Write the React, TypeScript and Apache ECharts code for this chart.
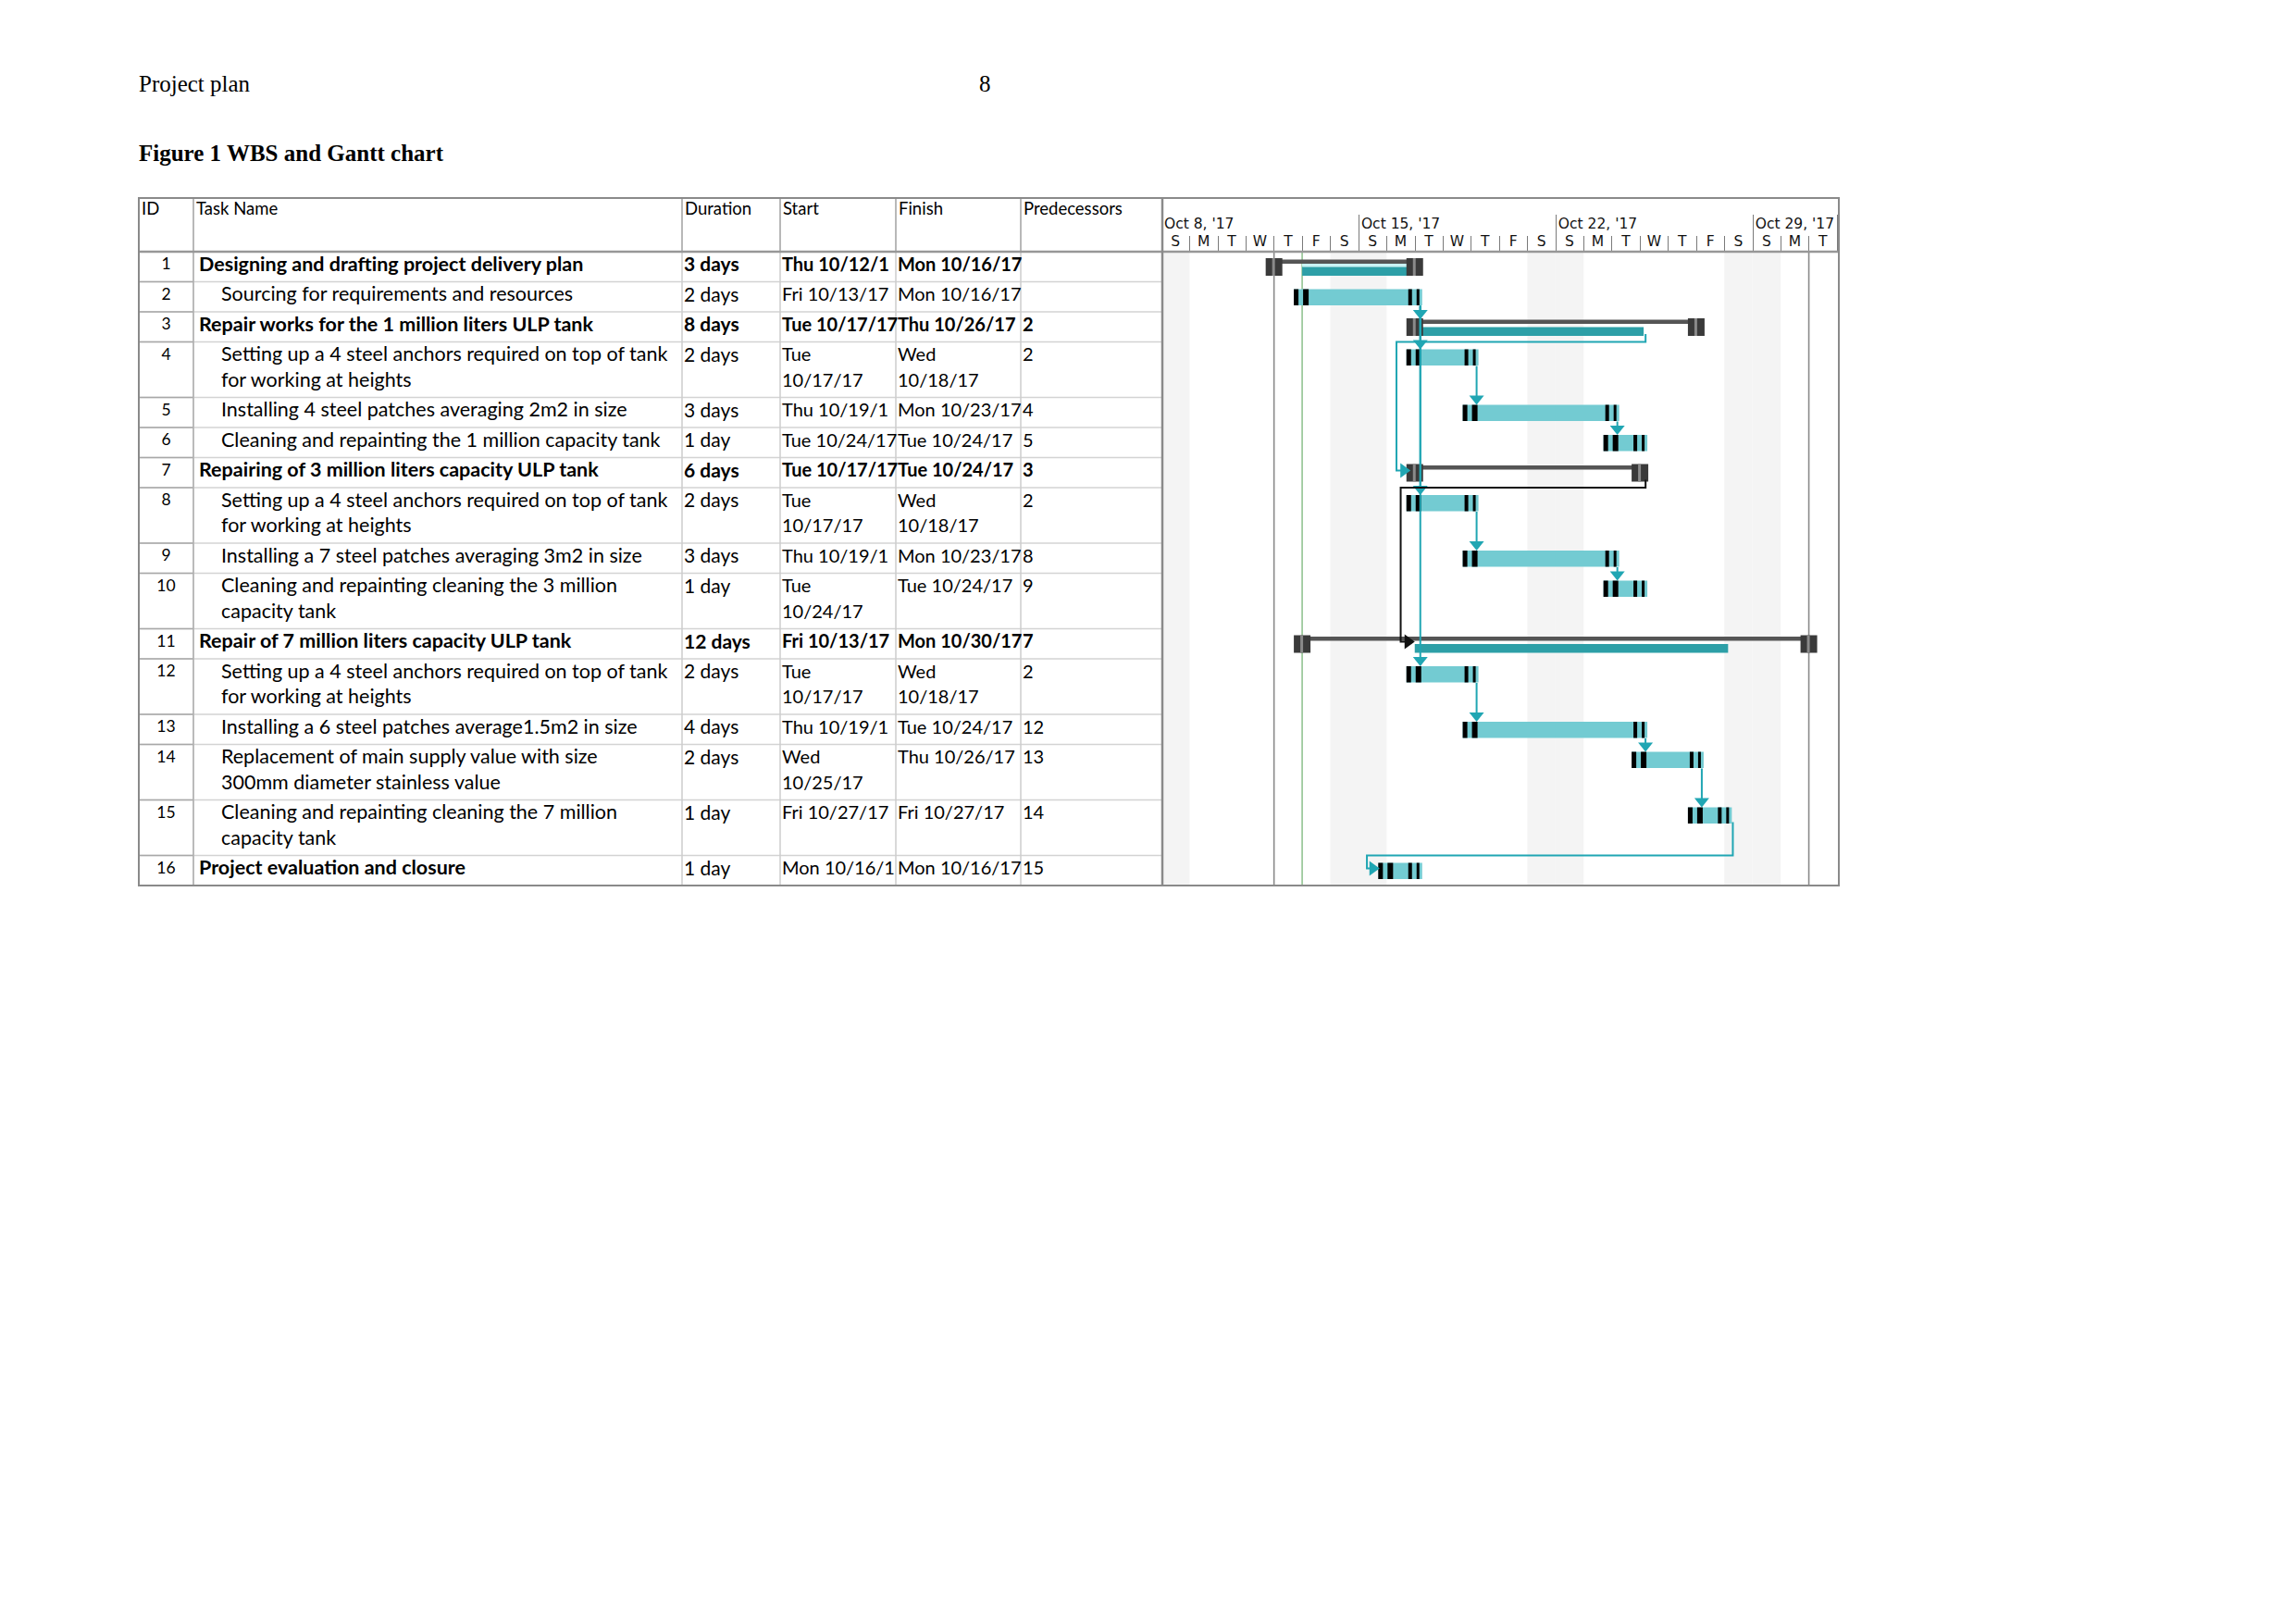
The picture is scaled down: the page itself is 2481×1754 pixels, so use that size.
import React, { useEffect, useRef } from "react";
import * as echarts from "echarts";

// ---------- Data ----------
const taskIds = [1, 2, 3, 4, 5, 6, 7, 8, 9, 10, 11, 12, 13, 14, 15, 16];
const taskNames = [
  "Designing and drafting project delivery plan",
  "Sourcing for requirements and resources",
  "Repair works for the 1 million liters ULP tank",
  "Setting up a 4 steel anchors required on top of tank\nfor working at heights",
  "Installing 4 steel patches averaging 2m2 in size",
  "Cleaning and repainting the 1 million capacity tank",
  "Repairing of 3 million liters capacity ULP tank",
  "Setting up a 4 steel anchors required on top of tank\nfor working at heights",
  "Installing a 7 steel patches averaging 3m2 in size",
  "Cleaning and repainting cleaning the 3 million\ncapacity tank",
  "Repair of 7 million liters capacity ULP tank",
  "Setting up a 4 steel anchors required on top of tank\nfor working at heights",
  "Installing a 6 steel patches average1.5m2 in size",
  "Replacement of main supply value with size\n300mm diameter stainless value",
  "Cleaning and repainting cleaning the 7 million\ncapacity tank",
  "Project evaluation and closure",
];
const outlineLevels = [1, 2, 1, 2, 2, 2, 1, 2, 2, 2, 1, 2, 2, 2, 2, 1];
const summaryRows = [true, false, true, false, false, false, true, false, false, false, true, false, false, false, false, false];
const durations = ["3 days", "2 days", "8 days", "2 days", "3 days", "1 day", "6 days", "2 days", "3 days", "1 day", "12 days", "2 days", "4 days", "2 days", "1 day", "1 day"];
const startDates = [
  "Thu 10/12/17", "Fri 10/13/17", "Tue 10/17/17", "Tue\n10/17/17", "Thu 10/19/17", "Tue 10/24/17",
  "Tue 10/17/17", "Tue\n10/17/17", "Thu 10/19/17", "Tue\n10/24/17", "Fri 10/13/17", "Tue\n10/17/17",
  "Thu 10/19/17", "Wed\n10/25/17", "Fri 10/27/17", "Mon 10/16/17",
];
const finishDates = [
  "Mon 10/16/17", "Mon 10/16/17", "Thu 10/26/17", "Wed\n10/18/17", "Mon 10/23/17", "Tue 10/24/17",
  "Tue 10/24/17", "Wed\n10/18/17", "Mon 10/23/17", "Tue 10/24/17", "Mon 10/30/17", "Wed\n10/18/17",
  "Tue 10/24/17", "Thu 10/26/17", "Fri 10/27/17", "Mon 10/16/17",
];
const predecessors = ["", "", "2", "2", "4", "5", "3", "2", "8", "9", "7", "2", "12", "13", "14", "15"];
const lineCounts = [1, 1, 1, 2, 1, 1, 1, 2, 1, 2, 1, 2, 1, 2, 2, 1];
const columnHeaders = ["ID", "Task Name", "Duration", "Start", "Finish", "Predecessors"];

// Gantt values: days counted from Sun Oct 8, 2017
const barStartDay = [4, 5, 9, 9, 11, 16, 9, 9, 11, 16, 5, 9, 11, 17, 19, 8];
const barEndDay = [9, 9, 19, 11, 16, 17, 17, 11, 16, 17, 23, 11, 17, 19, 20, 9];
const rollupStartDay: (number | null)[] = [5, null, 9, null, null, null, null, null, null, null, 9, null, null, null, null, null];
const rollupEndDay: (number | null)[] = [9, null, 17, null, null, null, null, null, null, null, 20, null, null, null, null, null];

const linkFrom = [2, 2, 2, 2, 4, 5, 8, 9, 12, 13, 14];
const linkTo = [3, 4, 8, 12, 5, 6, 9, 10, 13, 14, 15];

const loopFrom = [3, 7, 15];
const loopTo = [7, 11, 16];
const loopExitDay = [17.2, 17.2, 20.3];
const loopTurnDay = [8.35, 8.5, 7.3];
const loopEntryDay = [8.85, 9.0, 7.75];

const dayLetters = ["S", "M", "T", "W", "T", "F", "S", "S", "M", "T", "W", "T", "F", "S", "S", "M", "T", "W", "T", "F", "S", "S", "M", "T"];
const weekLabels = ["Oct 8, '17", "Oct 15, '17", "Oct 22, '17", "Oct 29, '17"];
const weekendDays = [0, 6, 7, 13, 14, 20, 21];
const markerDays = [4, 5, 23];
const TOTAL_DAYS = 24;

// ---------- Styles / layout ----------
const LIGHT_TEAL = "#73cbd2";
const DARK_TEAL = "#2d9fa7";
const PALE_CYAN = "#c9f3f5";
const LINK_TEAL = "#20a6b3";
const SUMMARY_GRAY = "#555555";
const CAP_DARK = "#3a3a3a";
const CAP_STRIPE = "#8a8a8a";
const MARKER_COLORS = ["#8a8a8a", "#93c493", "#8a8a8a"];
const LOOP_COLORS = [LINK_TEAL, "#111111", LINK_TEAL];
const TABLE_FONT = "Lato";
const AXIS_FONT = "DejaVu Sans";
const NAME_SIZE = 21.5;
const DATE_SIZE = 20;
const DUR_SIZE = 21;

const COLS = [150, 209, 737, 843, 968, 1103, 1256];
const TABLE_RIGHT = 1987;
const TABLE_TOP = 214;
const HEADER_BOTTOM = 272;
const SINGLE_ROW = 32.5;
const LINE_STEP = 27.5;
const GANTT_LEFT = 1255;
const GANTT_WIDTH = 730;

const rowHeights = lineCounts.map((n) => SINGLE_ROW + (n - 1) * LINE_STEP);
const rowTops: number[] = [];
let accH = 0;
rowHeights.forEach((h) => {
  rowTops.push(accH);
  accH += h;
});
const TOTAL_H = accH;
const rowBottom = (i: number) => rowTops[i] + rowHeights[i];

function buildGraphic() {
  const els: any[] = [];
  const TABLE_BOTTOM = HEADER_BOTTOM + TOTAL_H;
  const txt = (x: number, y: number, text: string, opts: any = {}) => ({
    type: "text",
    x,
    y,
    silent: true,
    z: 50,
    style: {
      text,
      fill: "#000",
      fontFamily: TABLE_FONT,
      fontSize: NAME_SIZE,
      align: "left",
      verticalAlign: "top",
      lineHeight: LINE_STEP,
      ...opts,
    },
  });
  const line = (x1: number, y1: number, x2: number, y2: number, stroke: string, lineWidth: number, z = 60) => ({
    type: "line",
    silent: true,
    z,
    shape: { x1, y1, x2, y2 },
    style: { stroke, lineWidth },
  });

  // page texts
  els.push(txt(150, 90, "Project plan", { fontFamily: "Liberation Serif", fontSize: 25, verticalAlign: "middle", lineHeight: 30 }));
  els.push(txt(1058, 90, "8", { fontFamily: "Liberation Serif", fontSize: 25, verticalAlign: "middle", lineHeight: 30 }));
  els.push(
    txt(150, 165, "Figure 1 WBS and Gantt chart", {
      fontFamily: "Liberation Serif",
      fontSize: 25,
      fontWeight: "bold",
      verticalAlign: "middle",
      lineHeight: 30,
    })
  );

  // header labels
  columnHeaders.forEach((h, c) => {
    els.push(txt(COLS[c] + 3, 225, h, { fontSize: 18.5, verticalAlign: "middle", lineHeight: 20 }));
  });

  // row separators
  rowTops.forEach((t, i) => {
    const y = HEADER_BOTTOM + t + rowHeights[i];
    if (i < rowTops.length - 1) {
      els.push(line(COLS[0], y, COLS[6], y, "#d3d3d3", 1.5, 40));
      els.push(line(COLS[0], y, COLS[1], y, "#a8a8a8", 1.5, 41));
    }
  });

  // column separators
  for (let c = 1; c <= 5; c++) {
    els.push(line(COLS[c], TABLE_TOP, COLS[c], HEADER_BOTTOM, "#a0a0a0", 1.5, 41));
    els.push(line(COLS[c], HEADER_BOTTOM, COLS[c], TABLE_BOTTOM, "#cccccc", 1.5, 40));
  }
  els.push(line(COLS[1], HEADER_BOTTOM, COLS[1], TABLE_BOTTOM, "#b0b0b0", 1.5, 41));

  // cells
  taskIds.forEach((id, i) => {
    const y = HEADER_BOTTOM + rowTops[i] - 1;
    const bold = summaryRows[i];
    els.push(txt((COLS[0] + COLS[1]) / 2, y, String(id), { align: "center", fontSize: 17.5 }));
    const nameX = outlineLevels[i] === 1 ? 215 : 239;
    els.push(
      txt(nameX, y, taskNames[i], {
        fontWeight: outlineLevels[i] === 1 ? "bold" : "normal",
        width: COLS[2] - nameX + 2,
        overflow: "truncate",
        ellipsis: "",
      })
    );
    const cells = [durations[i], startDates[i], finishDates[i], predecessors[i]];
    const sizes = [DUR_SIZE, DATE_SIZE, DATE_SIZE, DATE_SIZE];
    cells.forEach((v, k) => {
      const c = k + 2;
      els.push(
        txt(COLS[c] + 2, y, v, {
          fontWeight: bold ? "bold" : "normal",
          fontSize: sizes[k],
          width: COLS[c + 1] - COLS[c] + 2,
          overflow: "truncate",
          ellipsis: "",
        })
      );
    });
  });

  // borders
  els.push(line(COLS[0], HEADER_BOTTOM, TABLE_RIGHT, HEADER_BOTTOM, "#979797", 2.5, 70));
  els.push(line(COLS[6], TABLE_TOP, COLS[6], TABLE_BOTTOM, "#8a8a8a", 2.5, 70));
  els.push({
    type: "rect",
    silent: true,
    z: 70,
    shape: { x: COLS[0], y: TABLE_TOP, width: TABLE_RIGHT - COLS[0], height: TABLE_BOTTOM - TABLE_TOP },
    style: { fill: "none", stroke: "#8a8a8a", lineWidth: 2 },
  });
  return els;
}

function buildOption(): any {
  const rect = (x: number, y: number, w: number, h: number, fill: string) => ({
    type: "rect",
    shape: { x, y, width: w, height: h },
    style: { fill },
  });

  return {
    animation: false,
    backgroundColor: "#ffffff",
    grid: [{ left: GANTT_LEFT, top: HEADER_BOTTOM, width: GANTT_WIDTH, height: TOTAL_H }],
    xAxis: [
      { type: "value", min: 0, max: TOTAL_DAYS, show: false, gridIndex: 0 },
      {
        type: "category",
        gridIndex: 0,
        position: "top",
        data: dayLetters,
        boundaryGap: true,
        axisLine: { show: false },
        axisTick: { show: true, interval: 0, length: 17, lineStyle: { color: "#7a7a7a", width: 1 } },
        axisLabel: { interval: 0, margin: 3, fontSize: 15.5, fontFamily: AXIS_FONT, color: "#111" },
        splitLine: { show: false },
      },
      {
        type: "value",
        gridIndex: 0,
        position: "top",
        min: 0,
        max: TOTAL_DAYS,
        interval: 7,
        axisLine: { show: false },
        axisTick: { show: true, length: 40, lineStyle: { color: "#7a7a7a", width: 1 } },
        axisLabel: {
          margin: 22,
          align: "left",
          padding: [0, 0, 0, 3],
          fontSize: 15.5,
          fontFamily: AXIS_FONT,
          color: "#111",
          formatter: (v: number) => (v % 7 === 0 && weekLabels[v / 7] ? weekLabels[v / 7] : ""),
        },
        splitLine: { show: false },
      },
    ],
    yAxis: [{ type: "value", min: 0, max: TOTAL_H, inverse: true, show: false, gridIndex: 0 }],
    graphic: { elements: buildGraphic() },
    series: [
      {
        type: "custom",
        name: "weekends",
        z: 1,
        xAxisIndex: 0,
        yAxisIndex: 0,
        data: weekendDays.map((d) => [d]),
        renderItem: (params: any, api: any) => {
          const d = api.value(0);
          const p0 = api.coord([d, 0]);
          const p1 = api.coord([d + 1, TOTAL_H]);
          return rect(p0[0], p0[1], p1[0] - p0[0], p1[1] - p0[1], "#f4f4f4");
        },
      },
      {
        type: "custom",
        name: "markers",
        z: 2,
        xAxisIndex: 0,
        yAxisIndex: 0,
        data: markerDays.map((d) => [d]),
        renderItem: (params: any, api: any) => {
          const p0 = api.coord([api.value(0), 0]);
          const p1 = api.coord([api.value(0), TOTAL_H]);
          return {
            type: "line",
            shape: { x1: p0[0], y1: p0[1], x2: p1[0], y2: p1[1] },
            style: { stroke: MARKER_COLORS[params.dataIndex], lineWidth: 1.6 },
          };
        },
      },
      {
        type: "custom",
        name: "bars",
        z: 3,
        xAxisIndex: 0,
        yAxisIndex: 0,
        data: taskIds.map((id, i) => [barStartDay[i], barEndDay[i], id]),
        renderItem: (params: any, api: any) => {
          const i = params.dataIndex;
          const x0 = api.coord([api.value(0), 0])[0];
          const x1 = api.coord([api.value(1), 0])[0];
          const top = api.coord([0, rowTops[i]])[1];
          const ch: any[] = [];
          if (summaryRows[i]) {
            const rs = rollupStartDay[i];
            const re = rollupEndDay[i];
            if (rs != null && re != null) {
              const r0 = api.coord([rs, 0])[0];
              const r1 = api.coord([re, 0])[0] + 4;
              if (i === 0) ch.push(rect(r0, top + 12.5, r1 - r0, 4, PALE_CYAN));
              ch.push(rect(r0, top + 16.5, r1 - r0, 9.5, DARK_TEAL));
            }
            ch.push(rect(x0, top + 8.5, x1 - x0, 4.5, SUMMARY_GRAY));
            [x0, x1].forEach((cx) => {
              ch.push(rect(cx - 9, top + 7, 18, 19, CAP_DARK));
              ch.push(rect(cx - 2, top + 7, 3, 19, CAP_STRIPE));
            });
          } else {
            const h = 17.5;
            ch.push(rect(x0 - 9, top + 8, x1 - x0 + 17, h, LIGHT_TEAL));
            ch.push(rect(x0 - 9, top + 8, 5, h, "#000"));
            ch.push(rect(x0 + 1, top + 8, 6, h, "#000"));
            ch.push(rect(x1 - 7, top + 8, 4, h, "#000"));
            ch.push(rect(x1 + 2, top + 8, 3, h, "#000"));
          }
          return { type: "group", children: ch };
        },
      },
      {
        type: "custom",
        name: "links",
        z: 4,
        xAxisIndex: 0,
        yAxisIndex: 0,
        data: linkFrom.map((f, k) => [f, linkTo[k]]),
        renderItem: (params: any, api: any) => {
          const f = api.value(0) - 1;
          const t = api.value(1) - 1;
          const x = api.coord([barEndDay[f], 0])[0] + 6;
          const y0 = api.coord([0, rowTops[f]])[1] + 26;
          const y1 = api.coord([0, rowTops[t]])[1] + 8;
          return {
            type: "group",
            children: [
              { type: "line", shape: { x1: x, y1: y0, x2: x, y2: y1 - 8 }, style: { stroke: LINK_TEAL, lineWidth: 2 } },
              {
                type: "polygon",
                shape: { points: [[x - 8, y1 - 10], [x + 8, y1 - 10], [x, y1]] },
                style: { fill: LINK_TEAL },
              },
            ],
          };
        },
      },
      {
        type: "custom",
        name: "loops",
        z: 4,
        xAxisIndex: 0,
        yAxisIndex: 0,
        data: loopFrom.map((f, k) => [f, loopTo[k], loopExitDay[k], loopTurnDay[k], loopEntryDay[k]]),
        renderItem: (params: any, api: any) => {
          const k = params.dataIndex;
          const f = api.value(0) - 1;
          const t = api.value(1) - 1;
          const xs = api.coord([api.value(2), 0])[0];
          const xv = api.coord([api.value(3), 0])[0];
          const xe = api.coord([api.value(4), 0])[0];
          const ys = api.coord([0, rowTops[f]])[1] + 24;
          const yb = api.coord([0, rowBottom(f)])[1];
          const ye = api.coord([0, rowTops[t]])[1] + 14;
          const color = LOOP_COLORS[k];
          return {
            type: "group",
            children: [
              {
                type: "polyline",
                shape: { points: [[xs, ys], [xs, yb], [xv, yb], [xv, ye], [xe - 9, ye]] },
                style: { stroke: color, lineWidth: 2, fill: "none" },
              },
              {
                type: "polygon",
                shape: { points: [[xe - 11, ye - 8], [xe - 11, ye + 8], [xe, ye]] },
                style: { fill: color },
              },
            ],
          };
        },
      },
    ],
  };
}

export default function App() {
  const ref = useRef<HTMLDivElement>(null);
  useEffect(() => {
    if (!ref.current) return;
    const chart = echarts.init(ref.current, undefined, { renderer: "svg" });
    chart.setOption(buildOption());
    return () => {
      chart.dispose();
    };
  }, []);
  return (
    <div
      ref={ref}
      style={{ position: "fixed", left: 0, top: 0, width: 2481, height: 1754, background: "#ffffff" }}
    />
  );
}
